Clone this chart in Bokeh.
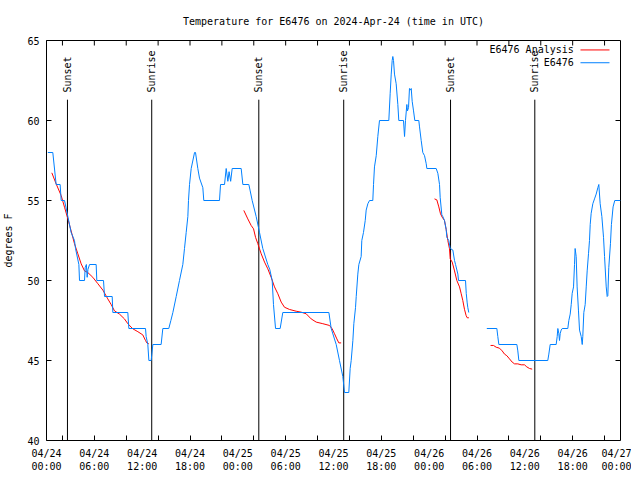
import math
import numpy as np
from bokeh.plotting import figure
from bokeh.models import FixedTicker, Range1d
from bokeh.core.properties import value
from bokeh.embed import file_html
from bokeh.resources import INLINE

FONT = "DejaVu Sans Mono"
NAN = float("nan")

title_text = "Temperature for E6476 on 2024-Apr-24 (time in UTC)"
y_label = "degrees F"

# x axis: hours since 2024-04-24 00:00 UTC
tick_hours = [0, 6, 12, 18, 24, 30, 36, 42, 48, 54, 60, 66, 72]
tick_labels = ["04/24\n00:00", "04/24\n06:00", "04/24\n12:00", "04/24\n18:00",
               "04/25\n00:00", "04/25\n06:00", "04/25\n12:00", "04/25\n18:00",
               "04/26\n00:00", "04/26\n06:00", "04/26\n12:00", "04/26\n18:00",
               "04/27\n00:00"]
minor_tick_hours = [2, 6, 10, 14, 18, 22, 26, 30, 34, 38, 42, 46, 50, 54, 58, 62, 66, 70]
y_ticks = [40, 45, 50, 55, 60, 65]

event_names = ["Sunset", "Sunrise", "Sunset", "Sunrise", "Sunset", "Sunrise"]
event_hours = [2.63, 13.2, 26.63, 37.28, 50.68, 61.25]

legend_labels = ["E6476 Analysis", "E6476"]

# E6476 Analysis (red)
ana1_h = [0.67, 1.21, 1.84, 2.26, 2.68, 3.09, 3.51, 3.93, 4.35, 4.77, 5.18, 5.81, 6.44, 7.07,
          7.69, 8.11, 8.53, 9.16, 9.78, 10.2, 10.83, 11.46, 12.08, 12.42, 12.59, 12.84]
ana1_t = [56.73, 56.04, 55.31, 54.58, 53.85, 53.1, 52.3, 51.67, 51.04, 50.6, 50.5, 50.2, 49.8, 49.4,
          48.85, 48.5, 48.1, 47.9, 47.6, 47.3, 46.98, 46.8, 46.6, 46.25, 46.1, 46.04]
ana2_h = [24.75, 25.25, 25.67, 25.97, 26.22, 26.51, 26.72, 26.93, 27.35, 27.76, 28.18, 28.6, 29.02,
          29.44, 29.85, 30.48, 31.32, 31.95, 32.57, 33.2, 33.83, 34.66, 35.5, 35.83, 36.13, 36.42,
          36.67, 36.96]
ana2_t = [54.38, 53.85, 53.44, 53.23, 52.7, 52.3, 51.98, 51.67, 51.15, 50.73, 50.2, 49.6, 49.17,
          48.65, 48.33, 48.19, 48.08, 48.02, 47.92, 47.6, 47.4, 47.3, 47.19, 46.98, 46.67, 46.35,
          46.1, 46.1]
ana3_h = [48.67, 48.96, 49.21, 49.42, 49.63, 49.92, 50.13, 50.34, 50.55, 50.64, 50.89, 51.18, 51.47,
          51.81, 52.02, 52.22, 52.43, 52.64, 52.77, 52.98]
ana3_t = [55.1, 55.04, 54.6, 54.17, 53.96, 53.75, 53.2, 52.5, 51.98, 51.35, 51.15, 50.6, 50.0,
          49.6, 49.17, 48.75, 48.2, 47.8, 47.67, 47.67]
ana4_h = [55.7, 56.07, 56.41, 56.82, 57.16, 57.45, 57.74, 58.08, 58.41, 58.71, 59.12, 59.54, 59.96,
          60.25, 60.59, 60.92]
ana4_t = [45.94, 45.94, 45.83, 45.77, 45.6, 45.4, 45.3, 45.1, 44.9, 44.79, 44.79, 44.73, 44.73,
          44.6, 44.5, 44.46]

# E6476 observations (blue)
obs1_h = [0.17, 0.79, 1.21, 1.71, 1.84, 2.26, 2.68, 3.09, 3.51, 3.64, 4.06, 4.14, 4.77, 4.85, 5.0,
          5.1, 5.2, 5.4, 6.23, 6.31, 7.15, 7.28, 8.24, 8.32, 10.2, 10.33, 12.42, 12.5, 12.71, 12.84,
          13.13, 13.34, 14.38, 14.59, 15.34, 15.6, 15.85, 16.27, 16.68, 17.1, 17.31, 17.52, 17.73,
          17.81, 17.94, 18.15, 18.57, 18.69, 18.98, 19.19, 19.61, 19.73, 21.7, 21.83, 22.33, 22.54,
          22.75, 22.9, 23.1, 23.29, 24.42, 24.63, 25.38, 25.55, 25.8, 26.3, 26.72, 27.13, 27.76,
          28.0, 28.31, 28.47, 28.73, 29.31, 29.64, 35.42, 35.71, 36.34, 36.75, 37.17, 37.38, 37.92,
          38.09, 38.22, 38.43, 38.55, 38.76, 38.85, 39.05, 39.18, 39.47, 39.55, 39.76, 39.98, 40.1,
          40.31, 40.52, 40.93, 41.02, 41.14, 41.36, 41.56, 41.77, 42.94, 43.11, 43.24, 43.36, 43.44,
          43.53, 43.65, 43.86, 44.07, 44.19, 44.78, 44.91, 45.03, 45.2, 45.28, 45.41, 45.53, 45.66,
          45.75, 45.87, 46.04, 46.2, 46.7, 46.79, 47.0, 47.2, 47.42, 47.63, 47.71, 48.88, 49.09, 49.3,
          49.38, 49.59, 49.71, 49.92, 50.13, 50.22, 50.46, 50.64, 50.97, 51.18, 51.31, 51.6, 51.68,
          52.56, 52.65, 52.77, 52.85, 52.97]
obs1_t = [58, 58, 56, 56, 55, 55, 54, 53, 52.5, 52, 51, 50, 50, 50.8, 51, 50.2, 50.7, 51, 51, 50,
          50, 49, 49, 48, 48, 47, 47, 46.5, 46, 45, 45, 46, 46, 47, 47, 47.5, 48, 49, 50, 51, 52, 53,
          54, 55, 56, 57, 58, 58, 57, 56.4, 55.8, 55, 55, 56, 56, 57, 56.2, 56.8, 56.2, 57, 57, 56,
          56, 55.6, 55, 54, 53, 52, 51, 50.7, 50, 48.5, 47, 47, 48, 48, 47, 46, 45, 44, 43, 43, 44.5,
          45, 46.25, 47.3, 48.3, 49, 50.4, 51, 51.5, 52.5, 53, 53.75, 54.4, 54.8, 55, 55, 56, 57.1,
          57.8, 59, 60, 60, 61.7, 62.9, 63.75, 64, 63.75, 62.9, 62.3, 61, 60, 60, 59, 60, 61, 60.6,
          60.8, 62, 61.9, 62, 61.2, 60.6, 60, 60, 59.6, 58.75, 58, 57.8, 57.3, 57, 57, 56.7, 56,
          55.2, 54.1, 54, 53.75, 53.2, 52.7, 52.5, 52, 51.9, 51.25, 51, 50.4, 50, 50, 49.2, 48.6,
          48.3, 48]
obs2_h = [55.23, 56.49, 56.61, 56.74, 59.0, 59.12, 59.25, 62.88, 63.01, 63.18, 63.93, 64.06, 64.14,
          64.26, 64.35, 64.44, 64.56, 64.69, 65.39, 65.52, 65.69, 65.82, 65.94, 66.11, 66.23, 66.31,
          66.44, 66.56, 66.73, 66.86, 67.07, 67.2, 67.27, 67.4, 67.57, 67.7, 67.82, 67.99, 68.11,
          68.2, 68.32, 68.53, 68.74, 68.95, 69.16, 69.28, 69.45, 69.66, 69.87, 70.0, 70.21, 70.33,
          70.41, 70.53, 70.74, 70.86, 71.07, 71.28, 72.0]
obs2_t = [47, 47, 46.5, 46, 46, 45.6, 45, 45, 45.4, 46, 46, 46.5, 47, 46.7, 46.25, 46.7, 46.9, 47,
          47, 47.5, 47.9, 48.5, 49.2, 49.6, 51, 52, 51.5, 49.6, 48.1, 46.9, 46.5, 46, 46.5, 48, 48.5,
          49.6, 50.6, 51.7, 52.5, 53.5, 54.2, 54.8, 55.1, 55.4, 55.8, 56, 54.8, 54, 52.7, 51.5, 49.6,
          49, 49.05, 50.8, 52.3, 53.5, 54.6, 55, 55]

ana_h = ana1_h + [NAN] + ana2_h + [NAN] + ana3_h + [NAN] + ana4_h
ana_t = ana1_t + [NAN] + ana2_t + [NAN] + ana3_t + [NAN] + ana4_t
obs_h = obs1_h + [NAN] + obs2_h
obs_t = obs1_t + [NAN] + obs2_t

RED = "#ff0000"
BLUE = "#0080ff"

X0, X1, Y0, Y1 = 0, 72, 40, 65
FW, FH = 574, 400
TICK_PX = 5
tick_dx = TICK_PX * (X1 - X0) / FW
tick_dy = TICK_PX * (Y1 - Y0) / FH

p = figure(frame_width=FW, frame_height=FH,
           x_range=Range1d(X0, X1), y_range=Range1d(Y0, Y1),
           output_backend="svg", toolbar_location=None,
           min_border_left=39, min_border_right=11,
           min_border_top=32, min_border_bottom=20,
           background_fill_color="white", border_fill_color="white")

p.title.text = title_text
p.title.align = "center"
p.title.text_font = FONT
p.title.text_font_size = "10px"
p.title.text_font_style = "normal"
p.title.text_color = "black"
p.title.standoff = 27

p.xgrid.visible = False
p.ygrid.visible = False
p.outline_line_color = "black"
p.outline_line_alpha = 1
p.outline_line_width = 1

xa = p.xaxis[0]
xa.ticker = FixedTicker(ticks=tick_hours, minor_ticks=minor_tick_hours)
xa.major_label_overrides = {h: lab for h, lab in zip(tick_hours, tick_labels)}
xa.major_tick_in = 0
xa.major_tick_out = 0
xa.minor_tick_in = TICK_PX
xa.minor_tick_out = 0
xa.minor_tick_line_color = "black"
xa.axis_line_color = None
xa.major_label_standoff = 7
xa.major_label_text_font = FONT
xa.major_label_text_font_size = "10px"
xa.major_label_text_color = "black"

ya = p.yaxis[0]
ya.ticker = FixedTicker(ticks=y_ticks)
ya.major_tick_in = TICK_PX
ya.major_tick_out = 0
ya.major_tick_line_color = "black"
ya.minor_tick_line_color = None
ya.axis_line_color = None
ya.major_label_standoff = 7
ya.major_label_text_font = FONT
ya.major_label_text_font_size = "10px"
ya.major_label_text_color = "black"
ya.axis_label = y_label
ya.axis_label_text_font = FONT
ya.axis_label_text_font_size = "10px"
ya.axis_label_text_font_style = "normal"
ya.axis_label_text_color = "black"
ya.axis_label_standoff = 10

# mirrored inward ticks on the top and right frame edges
nt = len(minor_tick_hours)
p.segment(x0=minor_tick_hours, y0=[Y1] * nt, x1=minor_tick_hours, y1=[Y1 - tick_dy] * nt,
          line_color="black", line_width=1)
ny = len(y_ticks)
p.segment(x0=[X1] * ny, y0=y_ticks, x1=[X1 - tick_dx] * ny, y1=y_ticks,
          line_color="black", line_width=1)

# sunrise / sunset markers
n = len(event_hours)
p.segment(x0=event_hours, y0=[Y0] * n, x1=event_hours, y1=[61.3] * n,
          line_color="black", line_width=1)
p.text(x=event_hours, y=[61.75] * n, text=event_names, angle=math.pi / 2,
       text_align="left", text_baseline="middle", text_font=value(FONT),
       text_font_size="10px", text_color="black")

# series
p.line(ana_h, ana_t, line_color=RED, line_width=1)
p.line(obs_h, obs_t, line_color=BLUE, line_width=1)

# legend (top right, text right-aligned with sample line on the right)
p.text(x=[66.14, 66.14], y=[64.41, 63.61], text=legend_labels,
       text_align="right", text_baseline="middle", text_font=value(FONT),
       text_font_size="10px", text_color="black")
p.segment(x0=[66.98, 66.98], y0=[64.41, 63.61], x1=[70.62, 70.62], y1=[64.41, 63.61],
          line_color=[RED, BLUE], line_width=1)

open("out.html", "w").write(file_html(p, INLINE))
